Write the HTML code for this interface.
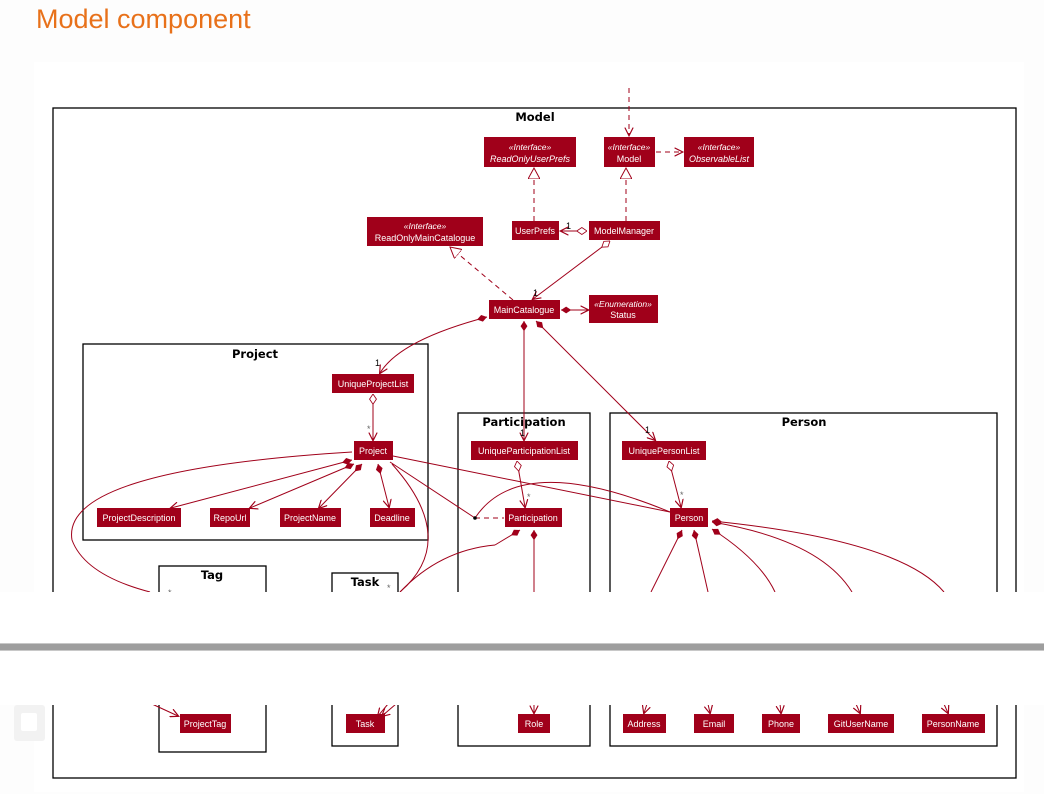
<!DOCTYPE html>
<html><head><meta charset="utf-8"><style>
html,body{margin:0;padding:0;background:#fdfdfd;width:1044px;height:794px;overflow:hidden}
svg{position:absolute;left:0;top:0}
</style></head><body>
<svg width="1044" height="794" viewBox="0 0 1044 794" font-family="Liberation Sans, sans-serif">
<defs>
<marker id="a" viewBox="0 0 10 10" refX="9" refY="5" markerWidth="9" markerHeight="9" orient="auto-start-reverse" markerUnits="userSpaceOnUse"><path d="M0,0 L10,5 L0,10 L4,5 Z" fill="#a0001a"/></marker>
<marker id="o" viewBox="0 0 12 10" refX="9" refY="5" markerWidth="10" markerHeight="9" orient="auto" markerUnits="userSpaceOnUse"><path d="M0,0 L10,5 L0,10" fill="none" stroke="#a0001a" stroke-width="1.4"/></marker>
<marker id="t" viewBox="0 0 12 12" refX="11" refY="6" markerWidth="12" markerHeight="12" orient="auto" markerUnits="userSpaceOnUse"><path d="M0,0 L11,6 L0,12 Z" fill="#fff" stroke="#a0001a"/></marker>
<marker id="d" viewBox="0 0 14 8" refX="0" refY="4" markerWidth="12" markerHeight="8" orient="auto" markerUnits="userSpaceOnUse"><path d="M0,4 L6,0 L12,4 L6,8 Z" fill="#a0001a"/></marker>
<marker id="w" viewBox="0 0 14 8" refX="0" refY="4" markerWidth="12" markerHeight="8" orient="auto" markerUnits="userSpaceOnUse"><path d="M0,4 L6,0 L12,4 L6,8 Z" fill="#fff" stroke="#a0001a"/></marker>
</defs>
<text x="36" y="28" font-size="27" fill="#e8711a">Model component</text>
<rect x="34" y="62" width="990" height="730" fill="#fff"/>
<g fill="none" stroke="#000" stroke-width="1.3">
<rect x="53" y="108" width="963" height="670"/>
<rect x="83" y="344" width="345" height="196"/>
<rect x="458" y="413" width="132" height="333"/>
<rect x="610" y="413" width="387" height="333"/>
<rect x="159" y="566" width="107" height="186"/>
<rect x="332" y="573" width="66" height="173"/>
</g>
<g font-weight="bold" font-size="11.5" text-anchor="middle" font-family="DejaVu Sans, sans-serif">
<text x="535" y="121">Model</text><text x="255" y="358">Project</text>
<text x="524" y="426">Participation</text><text x="804" y="426">Person</text>
<text x="212" y="579">Tag</text><text x="365" y="586">Task</text>
</g>
<g fill="none" stroke="#a0001a" stroke-width="1">
<path d="M629,88 V135" stroke-dasharray="5,4" marker-end="url(#o)"/>
<path d="M656,152 H682" stroke-dasharray="5,4" marker-end="url(#o)"/>
<path d="M534,221 V168" stroke-dasharray="5,4" marker-end="url(#t)"/>
<path d="M626,221 V168" stroke-dasharray="5,4" marker-end="url(#t)"/>
<path d="M513,300 L450,247" stroke-dasharray="5,4" marker-end="url(#t)"/>
<path d="M587,231 H561" marker-start="url(#w)" marker-end="url(#o)"/>
<path d="M610,241 L533,299" marker-start="url(#w)" marker-end="url(#o)"/>
<path d="M561,310 H588" marker-start="url(#d)" marker-end="url(#o)"/>
<path d="M487,317 Q400,340 380,373" marker-start="url(#d)" marker-end="url(#o)"/>
<path d="M524,321 V440" marker-start="url(#d)" marker-end="url(#o)"/>
<path d="M536,321 L655,440" marker-start="url(#d)" marker-end="url(#o)"/>
<path d="M373,394 V440" marker-start="url(#w)" marker-end="url(#o)"/>
<path d="M517,461 L525,507" marker-start="url(#w)" marker-end="url(#o)"/>
<path d="M669,461 L681,507" marker-start="url(#w)" marker-end="url(#o)"/>
<path d="M352,460 L171,508" marker-start="url(#d)" marker-end="url(#o)"/>
<path d="M354,464 L250,508" marker-start="url(#d)" marker-end="url(#o)"/>
<path d="M362,464 L319,508" marker-start="url(#d)" marker-end="url(#o)"/>
<path d="M378,464 L389,507" marker-start="url(#d)" marker-end="url(#o)"/>
<path d="M393,456 L670,512"/>
<path d="M390,462 L475,518"/>
<path d="M475,518 H504" stroke-dasharray="5,4"/>
<path d="M475,518 Q520,450 670,512"/>
<path d="M352,452 Q60,470 72,540 Q85,575 150,592"/>
<path d="M152,704 L178,716" marker-end="url(#o)"/>
<path d="M392,464 Q460,540 400,592"/>
<path d="M495,545 Q440,550 400,592"/>
<path d="M388,704 L378,716" marker-end="url(#o)"/>
<path d="M396,704 L382,716" marker-end="url(#o)"/>
<path d="M520,530 L495,545" marker-start="url(#d)"/>
<path d="M534,530 V592" marker-start="url(#d)"/>
<path d="M534,704 V713" marker-end="url(#o)"/>
<path d="M682,530 L651,592" marker-start="url(#d)"/>
<path d="M694,530 L708,592" marker-start="url(#d)"/>
<path d="M712,529 Q760,560 775,592" marker-start="url(#d)"/>
<path d="M712,522 Q820,540 852,592" marker-start="url(#d)"/>
<path d="M712,521 Q900,540 944,592" marker-start="url(#d)"/>
<path d="M647,704 L644,713" marker-end="url(#o)"/>
<path d="M708,704 L710,713" marker-end="url(#o)"/>
<path d="M780,704 L781,713" marker-end="url(#o)"/>
<path d="M856,704 L860,713" marker-end="url(#o)"/>
<path d="M944,704 L948,713" marker-end="url(#o)"/>
</g>
<circle cx="475" cy="518" r="1.8" fill="#000"/>
<g font-size="9" fill="#000">
<text x="566" y="229">1</text><text x="533" y="296">1</text><text x="375" y="366">1</text>
<text x="367" y="432" fill="#666">*</text><text x="520" y="436">1</text><text x="645" y="433">1</text>
<text x="527" y="500" fill="#666">*</text><text x="680" y="498" fill="#666">*</text>
<text x="168" y="596" fill="#666">*</text><text x="387" y="591" fill="#666">*</text>
</g>
<g fill="#a0001a">
<rect x="484" y="137" width="92" height="30"/><rect x="604" y="137" width="51" height="30"/>
<rect x="684" y="137" width="70" height="30"/><rect x="367" y="217" width="116" height="29"/>
<rect x="512" y="221" width="47" height="19"/><rect x="589" y="221" width="71" height="19"/>
<rect x="489" y="300" width="71" height="19"/><rect x="589" y="295" width="69" height="28"/>
<rect x="332" y="374" width="82" height="19"/><rect x="354" y="441" width="39" height="19"/>
<rect x="97" y="508" width="84" height="19"/><rect x="210" y="508" width="40" height="19"/>
<rect x="280" y="508" width="61" height="19"/><rect x="370" y="508" width="45" height="19"/>
<rect x="471" y="441" width="107" height="19"/><rect x="505" y="508" width="57" height="19"/>
<rect x="518" y="714" width="32" height="19"/>
<rect x="622" y="441" width="84" height="19"/><rect x="670" y="508" width="38" height="19"/>
<rect x="623" y="714" width="43" height="19"/><rect x="694" y="714" width="40" height="19"/>
<rect x="762" y="714" width="38" height="19"/><rect x="828" y="714" width="66" height="19"/>
<rect x="922" y="714" width="63" height="19"/>
<rect x="180" y="714" width="51" height="19"/><rect x="346" y="714" width="39" height="19"/>
</g>
<g fill="#fff" font-size="9" text-anchor="middle">
<text x="530" y="150" font-style="italic" font-size="8.5">«Interface»</text><text x="530" y="162" font-style="italic">ReadOnlyUserPrefs</text>
<text x="629" y="150" font-style="italic" font-size="8.5">«Interface»</text><text x="629" y="162">Model</text>
<text x="719" y="150" font-style="italic" font-size="8.5">«Interface»</text><text x="719" y="162" font-style="italic">ObservableList</text>
<text x="425" y="229" font-style="italic" font-size="8.5">«Interface»</text><text x="425" y="241">ReadOnlyMainCatalogue</text>
<text x="535" y="234">UserPrefs</text><text x="624" y="234">ModelManager</text>
<text x="524" y="313">MainCatalogue</text>
<text x="623" y="307" font-style="italic" font-size="8.5">«Enumeration»</text><text x="623" y="318">Status</text>
<text x="373" y="387">UniqueProjectList</text><text x="373" y="454">Project</text>
<text x="139" y="521">ProjectDescription</text><text x="230" y="521">RepoUrl</text>
<text x="310" y="521">ProjectName</text><text x="392" y="521">Deadline</text>
<text x="524" y="454">UniqueParticipationList</text><text x="533" y="521">Participation</text>
<text x="534" y="727">Role</text>
<text x="664" y="454">UniquePersonList</text><text x="689" y="521">Person</text>
<text x="644" y="727">Address</text><text x="714" y="727">Email</text><text x="781" y="727">Phone</text>
<text x="861" y="727">GitUserName</text><text x="953" y="727">PersonName</text>
<text x="205" y="727">ProjectTag</text><text x="365" y="727">Task</text>
</g>
<rect x="0" y="592" width="1044" height="113" fill="#fff"/>
<rect x="0" y="643" width="1044" height="8" fill="#9e9e9e"/>
<rect x="0" y="643" width="1044" height="1" fill="#c8c8c8"/>
<rect x="0" y="650" width="1044" height="1" fill="#c8c8c8"/>
<rect x="14" y="705" width="31" height="36" rx="3" fill="#f2f2f2"/>
<rect x="21" y="713" width="16" height="18" rx="2" fill="#fff"/>
</svg>
</body></html>
